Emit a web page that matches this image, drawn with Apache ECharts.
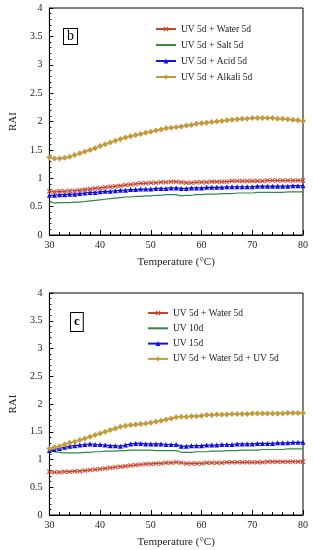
<!DOCTYPE html>
<html><head><meta charset="utf-8">
<script src="https://cdn.jsdelivr.net/npm/echarts@6/dist/echarts.min.js"></script>
<style>html,body{margin:0;padding:0;background:#fff}#c{width:313px;height:550px}</style>
</head><body><div id="c"></div>
<script>
var temps = [30,31,32,33,34,35,36,37,38,39,40,41,42,43,44,45,46,47,48,49,50,51,52,53,54,55,56,57,58,59,60,61,62,63,64,65,66,67,68,69,70,71,72,73,74,75,76,77,78,79,80];

// Panel b
var bWater = [0.77,0.76,0.77,0.77,0.78,0.78,0.79,0.80,0.81,0.82,0.83,0.84,0.85,0.86,0.87,0.88,0.89,0.90,0.91,0.91,0.92,0.92,0.93,0.93,0.94,0.94,0.93,0.92,0.92,0.93,0.93,0.93,0.94,0.94,0.94,0.94,0.95,0.95,0.95,0.95,0.95,0.95,0.95,0.96,0.96,0.96,0.96,0.96,0.96,0.96,0.96];
var bSalt = [0.59,0.56,0.57,0.57,0.57,0.58,0.58,0.59,0.60,0.61,0.62,0.63,0.64,0.65,0.66,0.67,0.67,0.68,0.68,0.69,0.69,0.70,0.70,0.71,0.71,0.71,0.69,0.70,0.70,0.71,0.71,0.72,0.72,0.72,0.73,0.73,0.73,0.74,0.74,0.74,0.74,0.75,0.75,0.75,0.75,0.75,0.75,0.76,0.76,0.76,0.76];
var bAcid = [0.70,0.70,0.71,0.71,0.72,0.72,0.73,0.74,0.75,0.75,0.76,0.77,0.77,0.78,0.79,0.79,0.80,0.80,0.81,0.81,0.81,0.82,0.82,0.82,0.83,0.83,0.82,0.82,0.83,0.83,0.83,0.84,0.84,0.84,0.84,0.85,0.85,0.85,0.85,0.85,0.85,0.86,0.86,0.86,0.86,0.86,0.86,0.86,0.87,0.87,0.87];
var bAlkali = [1.37,1.35,1.35,1.36,1.38,1.41,1.44,1.47,1.50,1.53,1.57,1.60,1.63,1.66,1.69,1.72,1.74,1.76,1.78,1.80,1.82,1.84,1.86,1.88,1.89,1.90,1.91,1.93,1.94,1.96,1.97,1.98,1.99,2.00,2.01,2.02,2.03,2.04,2.05,2.05,2.06,2.06,2.06,2.06,2.06,2.05,2.05,2.04,2.03,2.02,2.01];

// Panel c
var cWater = [0.78,0.77,0.77,0.78,0.78,0.79,0.79,0.80,0.81,0.82,0.83,0.84,0.85,0.86,0.87,0.88,0.89,0.90,0.91,0.92,0.92,0.93,0.93,0.94,0.94,0.95,0.94,0.93,0.93,0.93,0.93,0.94,0.94,0.94,0.94,0.95,0.95,0.95,0.95,0.95,0.95,0.95,0.95,0.96,0.96,0.96,0.96,0.96,0.96,0.96,0.96];
var cUV10 = [1.17,1.14,1.13,1.12,1.12,1.12,1.12,1.13,1.13,1.14,1.14,1.15,1.15,1.15,1.16,1.16,1.17,1.17,1.17,1.17,1.17,1.16,1.16,1.16,1.16,1.16,1.13,1.13,1.13,1.14,1.14,1.14,1.15,1.15,1.15,1.16,1.16,1.16,1.17,1.17,1.17,1.17,1.18,1.18,1.18,1.18,1.18,1.19,1.19,1.19,1.19];
var cUV15 = [1.16,1.18,1.20,1.22,1.24,1.25,1.26,1.27,1.28,1.27,1.27,1.26,1.25,1.25,1.24,1.26,1.28,1.29,1.29,1.28,1.28,1.28,1.28,1.27,1.27,1.27,1.24,1.24,1.25,1.25,1.25,1.26,1.26,1.26,1.27,1.27,1.27,1.28,1.28,1.28,1.28,1.29,1.29,1.29,1.29,1.30,1.30,1.30,1.31,1.31,1.31];
var cMixed = [1.20,1.22,1.24,1.27,1.30,1.32,1.35,1.38,1.41,1.44,1.47,1.50,1.53,1.56,1.59,1.61,1.62,1.63,1.64,1.65,1.66,1.68,1.70,1.72,1.74,1.76,1.77,1.77,1.78,1.78,1.79,1.80,1.80,1.81,1.81,1.81,1.82,1.82,1.82,1.82,1.83,1.83,1.83,1.83,1.83,1.83,1.83,1.84,1.84,1.84,1.84];

var namesB = ['UV 5d + Water 5d','UV 5d + Salt 5d','UV 5d + Acid 5d','UV 5d + Alkali 5d'];
var namesC = ['UV 5d + Water 5d ','UV 10d','UV 15d','UV 5d + Water 5d + UV 5d'];
var xTicks = [30,40,50,60,70,80];
var yTicks = [0,0.5,1,1.5,2,2.5,3,3.5,4];

var FONT = 'Liberation Serif';
var RED = '#c9462c', GREEN = '#2f8a45', BLUE = '#1010e0', GOLD = '#c49a3a';
var XSYM = 'path://M0,1.5 L1.5,0 L5,3.5 L8.5,0 L10,1.5 L6.5,5 L10,8.5 L8.5,10 L5,6.5 L1.5,10 L0,8.5 L3.5,5 Z';

function pairs(v){ return temps.map(function(t,i){ return [t, v[i]]; }); }
function legendData(names){
  return names.map(function(n,i){ return i===1 ? {name:n, itemStyle:{opacity:0}} : {name:n}; });
}
function xAxis(gi){
  return {gridIndex:gi, type:'value', min:xTicks[0], max:xTicks[xTicks.length-1], interval:10,
    name:'Temperature (\u00b0C)', nameLocation:'middle', nameGap:22,
    nameTextStyle:{fontFamily:FONT,fontSize:11,color:'#222'},
    axisLine:{lineStyle:{color:'#000',width:1}},
    axisTick:{inside:true,length:5,lineStyle:{color:'#000'}},
    minorTick:{show:true,splitNumber:5,length:3,lineStyle:{color:'#000'}},
    splitLine:{show:false},
    axisLabel:{fontFamily:FONT,fontSize:10,color:'#222',margin:5}};
}
function yAxis(gi){
  return {gridIndex:gi, type:'value', min:yTicks[0], max:yTicks[yTicks.length-1], interval:0.5,
    name:'RAI', nameLocation:'middle', nameGap:28, nameRotate:90,
    nameTextStyle:{fontFamily:FONT,fontSize:11,color:'#222'},
    axisLine:{lineStyle:{color:'#000',width:1}},
    axisTick:{inside:true,length:4,lineStyle:{color:'#000'}},
    minorTick:{show:true,splitNumber:5,length:2,lineStyle:{color:'#000'}},
    splitLine:{show:false},
    axisLabel:{fontFamily:FONT,fontSize:10,color:'#222',margin:7,
      formatter:function(v){return String(v);}}};
}
function ser(name, gi, data, color, sym, size, show){
  return {name:name, type:'line', xAxisIndex:gi, yAxisIndex:gi, data:pairs(data),
    symbol:sym, symbolSize:size, showSymbol:show, smooth:false,
    lineStyle:{color:color,width:1.2}, itemStyle:{color:color}, animation:false};
}

var chart = echarts.init(document.getElementById('c'), null, {renderer:'canvas'});
chart.setOption({
  animation:false,
  backgroundColor:'#fff',
  grid:[
    {left:41, top:8, width:262, height:227, show:true, borderColor:'#000', borderWidth:1},
    {left:41, top:293, width:262, height:222, show:true, borderColor:'#000', borderWidth:1}
  ],
  xAxis:[xAxis(0), xAxis(1)],
  yAxis:[yAxis(0), yAxis(1)],
  legend:[
    {data:legendData(namesB), orient:'vertical', left:155, top:24, padding:0, itemWidth:20, itemHeight:6, itemGap:6,
     textStyle:{fontFamily:FONT,fontSize:9.5,color:'#222'}},
    {data:legendData(namesC), orient:'vertical', left:147, top:308, padding:0, itemWidth:20, itemHeight:6, itemGap:5.3,
     textStyle:{fontFamily:FONT,fontSize:9.5,color:'#222'}}
  ],
  graphic:[
    {type:'text', left:63, top:28, style:{text:'b', font:'14px "Liberation Serif"', fill:'#000',
      backgroundColor:'#fff', borderColor:'#000', borderWidth:1, padding:[0,3,1,3]}},
    {type:'text', left:70, top:312, style:{text:'c', font:'bold 13px "Liberation Serif"', fill:'#000',
      backgroundColor:'#fff', borderColor:'#000', borderWidth:1, padding:[2,3,3,3]}}
  ],
  series:[
    ser(namesB[0],0,bWater,RED,XSYM,5,true),
    ser(namesB[1],0,bSalt,GREEN,'circle',2,false),
    ser(namesB[2],0,bAcid,BLUE,'triangle',5,true),
    ser(namesB[3],0,bAlkali,GOLD,'diamond',6,true),
    ser(namesC[0],1,cWater,RED,XSYM,5,true),
    ser(namesC[1],1,cUV10,GREEN,'circle',2,false),
    ser(namesC[2],1,cUV15,BLUE,'triangle',5,true),
    ser(namesC[3],1,cMixed,GOLD,'diamond',6,true)
  ]
});
</script></body></html>
